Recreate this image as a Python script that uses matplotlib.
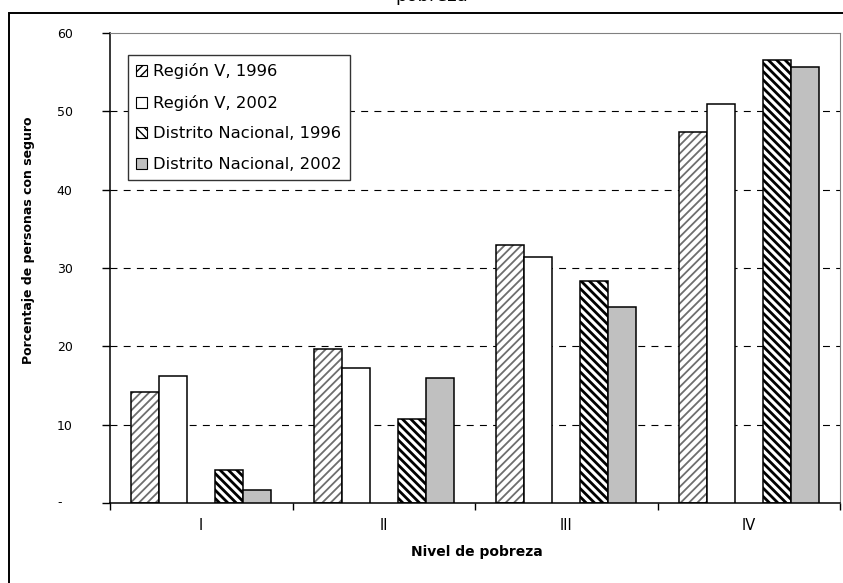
import numpy as np
import matplotlib
matplotlib.use("Agg")
import matplotlib.pyplot as plt
from matplotlib.patches import Patch, Rectangle

# datos: porcentaje de personas con seguro por nivel de pobreza
niveles = ["I", "II", "III", "IV"]
region_v_1996 = [14.2, 19.6, 32.9, 47.3]
region_v_2002 = [16.2, 17.2, 31.4, 50.9]
distrito_1996 = [4.2, 10.7, 28.3, 56.6]
distrito_2002 = [1.7, 16.0, 25.0, 55.7]
series = ["Región V, 1996", "Región V, 2002",
          "Distrito Nacional, 1996", "Distrito Nacional, 2002"]
y_ticks = [0, 10, 20, 30, 40, 50, 60]

plt.rcParams["font.family"] = ["DejaVu Sans"]
plt.rcParams["lines.scale_dashes"] = False

W, H = 843, 583
fig = plt.figure(figsize=(W / 100, H / 100), dpi=100)
ax = fig.add_axes([110 / W, 1 - 503 / H, 730 / W, 470 / H])

x = np.arange(len(niveles))
w = 0.153


def hatched_bar(xpos, vals, hatch, hatch_color, hatch_lw):
    with plt.rc_context({"hatch.linewidth": hatch_lw}):
        bars = ax.bar(xpos, vals, w, facecolor="white", edgecolor=hatch_color,
                      hatch=hatch, linewidth=0, zorder=2)
    for b in bars:
        if hasattr(b, "set_hatch_linewidth"):
            b.set_hatch_linewidth(hatch_lw)
    ax.bar(xpos, vals, w, fill=False, edgecolor="black", linewidth=1.1, zorder=3)


hatched_bar(x - 2 * w, region_v_1996, "////", "#6e6e6e", 1.3)
ax.bar(x - w, region_v_2002, w, facecolor="white", edgecolor="black",
       linewidth=1.1, zorder=3)
hatched_bar(x + w, distrito_1996, "\\\\\\\\", "black", 2.0)
ax.bar(x + 2 * w, distrito_2002, w, facecolor="#c0c0c0", edgecolor="black",
       linewidth=1.1, zorder=3)

# ejes
ax.set_xlim(-0.5, len(niveles) - 0.5)
ax.set_ylim(0, 60)
ax.set_yticks(y_ticks)
ax.set_yticklabels([str(v) if v else "" for v in y_ticks], fontsize=9)
ax.tick_params(axis="y", direction="out", length=6, width=1, pad=21)
ax.text(-0.0685, 0, "-", transform=ax.get_yaxis_transform(), ha="center",
        va="center", fontsize=9)

ax.set_xticks(x)
ax.set_xticklabels(niveles, fontsize=10.5)
ax.tick_params(axis="x", which="major", length=0, pad=11)
ax.set_xticks(np.arange(-0.5, len(niveles)), minor=True)
ax.tick_params(axis="x", which="minor", direction="out", length=5, width=1)

for v in y_ticks[1:-1]:
    ax.axhline(v, color="black", linewidth=0.8, dashes=(5, 4.5), zorder=1)

for s in ("top", "right"):
    ax.spines[s].set_color("#808080")
for s in ("left", "bottom"):
    ax.spines[s].set_color("black")
    ax.spines[s].set_linewidth(1.1)

handles = [
    Patch(facecolor="white", edgecolor="black", hatch="////", linewidth=0.8),
    Patch(facecolor="white", edgecolor="black", linewidth=0.8),
    Patch(facecolor="white", edgecolor="black", hatch="\\\\\\\\", linewidth=0.8),
    Patch(facecolor="#c0c0c0", edgecolor="black", linewidth=0.8),
]
leg = ax.legend(handles, series, loc="upper left", bbox_to_anchor=(0.0247, 0.953),
                borderaxespad=0, fontsize=11.8, handlelength=0.66, handleheight=0.66,
                handletextpad=0.35, labelspacing=0.95, borderpad=0.5,
                frameon=True, fancybox=False, framealpha=1)
leg.get_frame().set_edgecolor("#333333")
leg.get_frame().set_linewidth(1.0)
leg.set_zorder(5)

fig.text(29 / W, 1 - 240 / H, "Porcentaje de personas con seguro", rotation=90,
         ha="center", va="center", fontsize=9, fontweight="bold")
fig.text(477 / W, 1 - 552 / H, "Nivel de pobreza", ha="center", va="center",
         fontsize=10, fontweight="bold")
# última línea del título, recortada por el borde superior
fig.text(432 / W, 1 - 1.0 / H, "pobreza", ha="center", va="baseline", fontsize=13)

fig.add_artist(Rectangle((9 / W, -0.1), 1.2, 1.1 - 13 / H, transform=fig.transFigure,
                         fill=False, edgecolor="black", linewidth=1.4))

fig.savefig("out.png", dpi=100)
